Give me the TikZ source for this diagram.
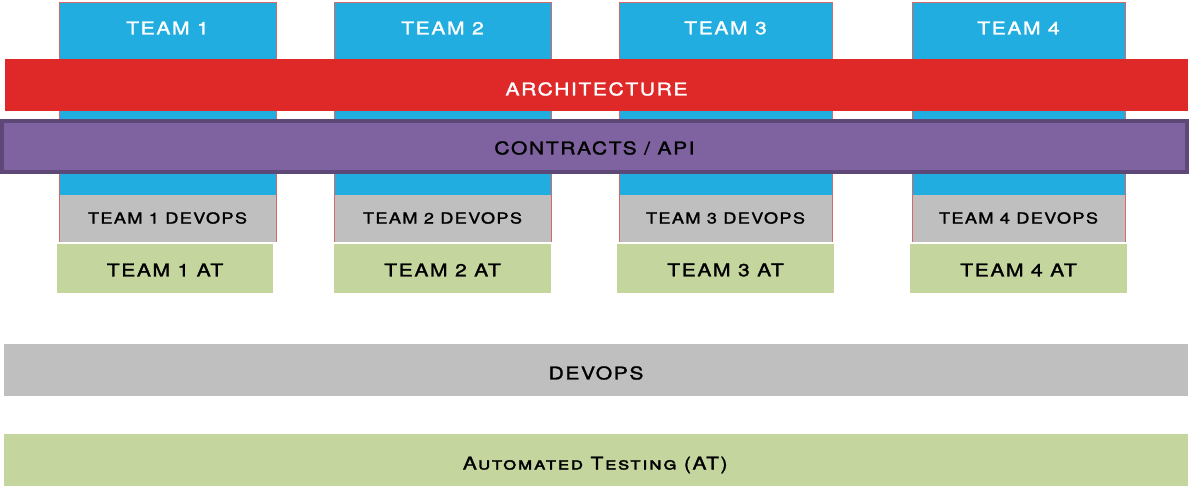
\documentclass[tikz,border=0pt]{standalone}
\usepackage{fontspec}
\setmainfont{TeX Gyre Heros}[FakeStretch=1.2,LetterSpace=9,FakeBold=1.6]
\definecolor{teamblue}{HTML}{22ADE0}
\definecolor{teamline}{HTML}{D46A6A}
\definecolor{archred}{HTML}{DF2828}
\definecolor{apipurple}{HTML}{7F63A0}
\definecolor{apiline}{HTML}{5E4878}
\definecolor{opsgrey}{HTML}{BFBFBF}
\definecolor{atgreen}{HTML}{C4D69E}

\begin{document}
\begin{tikzpicture}[x=0.02cm,y=-0.02cm]
\tikzset{
% column, bar and label styles
team fill/.style={fill=teamblue},
team border/.style={draw=teamline,line width=0.5pt},
ops fill/.style={fill=opsgrey},
at fill/.style={fill=atgreen},
big label/.style={font=\fontsize{10}{12}\selectfont},
small label/.style={font=\fontsize{8.6}{10}\selectfont}
}
\useasboundingbox (0,0) rectangle (1189,487);

% Team 1
\fill[team fill] (59,2) rectangle (276,195);
\fill[ops fill] (59,195) rectangle (276,242);
\draw[team border] (59,242) -- (59,2) -- (276,2) -- (276,242);
\fill[at fill] (57,244) rectangle (273,293);
\node(t1)[big label,white] at (167.5,28) {TEAM 1};
\node(t1ops)[small label] at (167.5,218) {TEAM 1 DEVOPS};
\node(t1at)[big label] at (165,270) {TEAM 1 AT};

% Team 2
\fill[team fill] (334,2) rectangle (551,195);
\fill[ops fill] (334,195) rectangle (551,242);
\draw[team border] (334,242) -- (334,2) -- (551,2) -- (551,242);
\fill[at fill] (334,244) rectangle (551,293);
\node(t2)[big label,white] at (442.5,28) {TEAM 2};
\node(t2ops)[small label] at (442.5,218) {TEAM 2 DEVOPS};
\node(t2at)[big label] at (442.5,270) {TEAM 2 AT};

% Team 3
\fill[team fill] (619,2) rectangle (832,195);
\fill[ops fill] (619,195) rectangle (832,242);
\draw[team border] (619,242) -- (619,2) -- (832,2) -- (832,242);
\fill[at fill] (617,244) rectangle (834,293);
\node(t3)[big label,white] at (725.5,28) {TEAM 3};
\node(t3ops)[small label] at (725.5,218) {TEAM 3 DEVOPS};
\node(t3at)[big label] at (725.5,270) {TEAM 3 AT};

% Team 4
\fill[team fill] (912,2) rectangle (1125,195);
\fill[ops fill] (912,195) rectangle (1125,242);
\draw[team border] (912,242) -- (912,2) -- (1125,2) -- (1125,242);
\fill[at fill] (910,244) rectangle (1127,293);
\node(t4)[big label,white] at (1018.5,28) {TEAM 4};
\node(t4ops)[small label] at (1018.5,218) {TEAM 4 DEVOPS};
\node(t4at)[big label] at (1018.5,270) {TEAM 4 AT};

% layers across all teams
\fill[archred] (5,59) rectangle (1188,111);
\node(arch)[big label,white] at (596.5,89) {ARCHITECTURE};
\draw[fill=apipurple,draw=apiline,line width=2.2pt] (2,121) rectangle (1187,172);
\node(api)[big label] at (594.5,148) {CONTRACTS / API};

% shared devops and testing
\fill[ops fill] (4,344) rectangle (1188,396);
\node(ops)[big label] at (596,373) {DEVOPS};
\fill[at fill] (4,434) rectangle (1188,486);
\node(at)[big label] at (596,465) {\textsc{Automated Testing (AT)}};
\end{tikzpicture}
\end{document}
